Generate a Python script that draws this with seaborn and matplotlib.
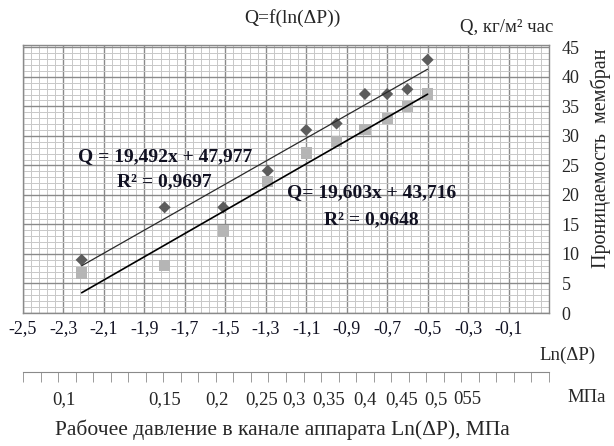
import numpy as np
import pandas as pd
import seaborn as sns
import matplotlib.pyplot as plt
from matplotlib.ticker import FixedLocator, MultipleLocator

## data
ln_dp = [-2.21, -1.80, -1.51, -1.29, -1.10, -0.95, -0.81, -0.70, -0.60, -0.50]
q_upper = [9.0, 17.9, 17.9, 24.1, 31.0, 32.1, 37.1, 37.1, 37.9, 42.9]
q_lower = [6.8, 8.0, 13.9, 22.3, 27.1, 29.1, 31.1, 33.0, 35.0, 37.1]

x_ticks = [-2.5, -2.3, -2.1, -1.9, -1.7, -1.5, -1.3, -1.1, -0.9, -0.7, -0.5, -0.3, -0.1]
x_labels = ['-2,5', '-2,3', '-2,1', '-1,9', '-1,7', '-1,5', '-1,3', '-1,1', '-0,9',
            '-0,7', '-0,5', '-0,3', '-0,1']
y_ticks = [0, 5, 10, 15, 20, 25, 30, 35, 40, 45]

# pressure ruler below the chart (labels as typed on the original)
mpa_pos = [-2.30, -1.80, -1.54, -1.32, -1.16, -0.99, -0.81, -0.63, -0.46, -0.305]
mpa_labels = ['0,1', '0,15', '0,2', '0,25', '0,3', '0,35', '0,4', '0,45', '0,5', '055']

df = pd.DataFrame({'x': ln_dp, 'upper': q_upper, 'lower': q_lower})

sns.set_style('white')
plt.rcParams['font.family'] = ['Liberation Serif', 'DejaVu Serif']

fig = plt.figure(figsize=(6.14, 4.46), dpi=100)
ax = fig.add_axes([23 / 614, 133 / 446, 526 / 614, 268 / 446])

sns.regplot(data=df, x='x', y='upper', scatter=False, ci=None, color='#2a2a2a',
            line_kws={'lw': 0.9, 'zorder': 4}, ax=ax)
sns.regplot(data=df, x='x', y='lower', scatter=False, ci=None, color='black',
            line_kws={'lw': 1.2, 'zorder': 4}, ax=ax)
sns.scatterplot(data=df, x='x', y='upper', marker='D', s=38, color='#5c5c5c',
                edgecolor='none', zorder=3, ax=ax)
sns.scatterplot(data=df, x='x', y='lower', marker='s', s=66, color='#b5b5b5',
                edgecolor='none', zorder=3, ax=ax)

ax.set_xlim(-2.5, 0.1)
ax.set_ylim(0, 45.4)
ax.set_xlabel('')
ax.set_ylabel('')
ax.set_xticks(x_ticks)
ax.set_xticklabels(x_labels)
ax.xaxis.set_minor_locator(FixedLocator(np.arange(-2.5, 0.1001, 0.04)))
ax.set_yticks(y_ticks)
ax.yaxis.set_minor_locator(MultipleLocator(1))
ax.yaxis.tick_right()
ax.set_axisbelow(True)
ax.grid(which='minor', color='#c8c8c8', lw=0.7)
ax.grid(which='major', color='#8a8a8a', lw=1.0)
ax.tick_params(which='both', length=0)
ax.tick_params(axis='x', pad=5, labelsize=13, labelcolor='#111122')
ax.tick_params(axis='y', pad=9, labelsize=13)
for sp in ax.spines.values():
    sp.set_color('#8a8a8a')
    sp.set_linewidth(1.0)

# regression labels
eq_kw = dict(transform=ax.transAxes, ha='center', va='center', fontsize=14,
             fontweight='bold', color='#111122')
ax.text(0.270, 0.582, 'Q = 19,492x + 47,977', **eq_kw)
ax.text(0.268, 0.489, 'R² = 0,9697', **eq_kw)
ax.text(0.663, 0.448, 'Q= 19,603x + 43,716', **eq_kw)
ax.text(0.662, 0.347, 'R² = 0,9648', **eq_kw)

# ruler with pressure values
ax2 = fig.add_axes([23 / 614, 74 / 446, 526 / 614, 1 / 446])
ax2.patch.set_alpha(0)
for name, sp in ax2.spines.items():
    sp.set_visible(name == 'bottom')
ax2.spines['bottom'].set_color('#8a8a8a')
ax2.set_xlim(-2.5, 0.1)
ax2.set_yticks([])
ax2.set_xticks(mpa_pos)
ax2.set_xticklabels(mpa_labels)
ax2.xaxis.set_minor_locator(FixedLocator(np.linspace(-2.5, 0.1, 31)))
ax2.tick_params(which='minor', bottom=True, length=7, color='#8a8a8a', direction='out')
ax2.tick_params(which='major', bottom=True, length=0, pad=14, labelsize=13.5)

fig.text(0.476, 0.960, 'Q=f(ln(ΔP))', ha='center', va='center', fontsize=14)
fig.text(0.826, 0.939, 'Q, кг/м² час', ha='center', va='center', fontsize=13.5)
fig.text(0.979, 0.646, 'Проницаемость  мембран', rotation=90, ha='center', va='center',
         fontsize=14.5)
fig.text(0.925, 0.204, 'Ln(ΔP)', ha='center', va='center', fontsize=13.5)
fig.text(0.956, 0.108, 'МПа', ha='center', va='center', fontsize=13.5)
fig.text(0.46, 0.036, 'Рабочее давление в канале аппарата Ln(ΔP), МПа',
         ha='center', va='center', fontsize=15.5)

fig.savefig('out.png', dpi=100)
